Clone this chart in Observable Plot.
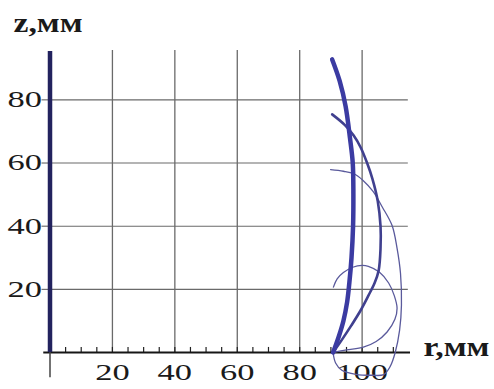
<!DOCTYPE html>
<html>
<head>
<meta charset="utf-8">
<script src="https://cdn.jsdelivr.net/npm/d3@7"></script>
<script src="https://cdn.jsdelivr.net/npm/@observablehq/plot@0.6"></script>
<style>
  html, body { margin: 0; padding: 0; background: #fff; }
  #chart svg text { font-family: "Liberation Serif", "Times New Roman", serif; }
</style>
</head>
<body>
<div id="chart"></div>
<script>
// Meridian profiles r(z) of the four surfaces, in millimetres
const path93R = [90.7, 92.5, 94.0, 95.2, 95.9, 96.6, 97.1, 97.2, 97.0, 96.1, 94.7, 92.8, 90.4];
const path93Z = [0, 5, 10, 16, 22, 30, 40, 50, 60, 68, 78, 86, 92.8];

const path75R = [90.7, 93.5, 96.5, 99.5, 102.0, 104.0, 105.3, 105.9, 105.9, 105.0, 103.3, 101.6, 99.5, 97.3, 94.5, 90.4];
const path75Z = [0, 4, 8.5, 13.3, 18, 22, 26, 33, 40, 48, 55, 60, 65, 68.7, 72, 75.4];

const path58R = [90.7, 91.5, 93.5, 98.0, 103.0, 106.9, 109.0, 110.6, 112.0, 112.6, 112.3, 111.2, 109.6, 106.5, 103.5, 100.3, 97.3, 94.0, 89.9];
const path58Z = [0, -3.3, -5.6, -6.9, -7.2, -7.0, -4.4, 0, 7, 15, 25, 33, 40.2, 46, 51, 54.5, 56.6, 57.4, 57.9];

const path21R = [90.7, 95.0, 100.4, 104.5, 108.0, 110.5, 111.2, 110.3, 108.5, 105.5, 102.0, 100.0, 97.0, 94.0, 92.0, 90.8];
const path21Z = [0, 0.8, 1.7, 3.5, 6.5, 10.5, 14, 18, 22, 25.5, 27.3, 27.6, 27.0, 25.3, 23.3, 20.7];

// Axis ticks and titles
const rTicks = [20, 40, 60, 80, 100];
const zTicks = [20, 40, 60, 80];
const rMinor = d3.range(5, 111, 5);
const rTitle = "r,мм";
const zTitle = "z,мм";

const toRows = (rs, zs) => rs.map((r, i) => ({r, z: zs[i]}));
const p93 = toRows(path93R, path93Z);
const p75 = toRows(path75R, path75Z);
const p58 = toRows(path58R, path58Z);
const p21 = toRows(path21R, path21Z);

const chart = Plot.plot({
  width: 494,
  height: 389,
  marginLeft: 49.5,
  marginRight: 84,
  marginTop: 52,
  marginBottom: 37,
  x: {domain: [0, 115.5]},
  y: {domain: [0, 95]},
  style: {fontFamily: "'Liberation Serif', 'Times New Roman', serif", fontSize: "23px", background: "#fff", color: "#1a1a1a"},
  marks: [
    // grid
    Plot.ruleX(rTicks, {y1: 0, y2: 95.6, stroke: "#6a6a6a", strokeWidth: 1.3}),
    Plot.ruleY(zTicks, {x1: 0, x2: 114.8, stroke: "#6a6a6a", strokeWidth: 1.1}),
    // axes
    Plot.axisX({ticks: rTicks, tickSize: 0, tickPadding: 11, label: null}),
    Plot.axisY({ticks: zTicks, tickSize: 8, tickPadding: 0, label: null, stroke: "#555"}),
    Plot.ruleX(rMinor, {y1: 0, y2: 1.6, stroke: "#222", strokeWidth: 1.2}),
    Plot.ruleY([0], {x1: -2, x2: 115.5, stroke: "#161616", strokeWidth: 1.8}),
    Plot.ruleX([0], {y1: -8, y2: 0, stroke: "#444", strokeWidth: 1.5}),
    Plot.ruleX([0], {y1: 0, y2: 95.3, stroke: "#22225e", strokeWidth: 4.5}),
    // profiles
    Plot.line(p21, {x: "r", y: "z", curve: "catmull-rom", stroke: "#5a5a9c", strokeWidth: 1.3}),
    Plot.line(p58, {x: "r", y: "z", curve: "catmull-rom", stroke: "#5a5a9c", strokeWidth: 1.3}),
    Plot.line(p75, {x: "r", y: "z", curve: "catmull-rom", stroke: "#40408f", strokeWidth: 2.6}),
    Plot.line(p93, {x: "r", y: "z", curve: "catmull-rom", stroke: "#3b3ba2", strokeWidth: 4.5}),
    // axis titles
    Plot.text([zTitle], {frameAnchor: "top-left", text: d => d, textAnchor: "start", lineAnchor: "bottom", dx: -36.5, dy: -21, fontSize: 28, fontWeight: "bold", fill: "#1a1a1a"}),
    Plot.text([rTitle], {frameAnchor: "bottom-right", text: d => d, textAnchor: "start", lineAnchor: "bottom", dx: 13, dy: 3, fontSize: 28, fontWeight: "bold", fill: "#1a1a1a"})
  ]
});

// The lettering in this figure is set wide: stretch each text horizontally about its anchor.
for (const t of chart.querySelectorAll("text")) {
  const s = t.textContent.includes("мм") ? 1.2 : 1.5;
  const tr = t.getAttribute("transform") || "";
  const x = +(t.getAttribute("x") || 0);
  t.setAttribute("transform", `${tr} translate(${x},0) scale(${s},1) translate(${-x},0)`);
}

document.getElementById("chart").appendChild(chart);
</script>
</body>
</html>
